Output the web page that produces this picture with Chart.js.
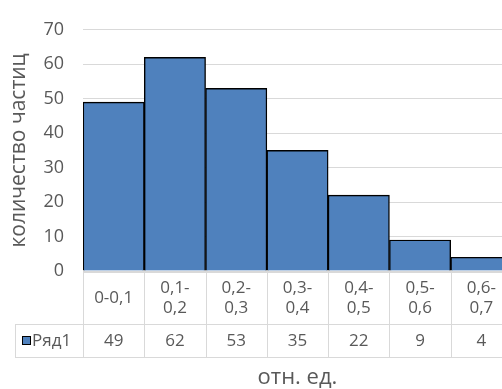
<!DOCTYPE html>
<html>
<head>
<meta charset="utf-8">
<script src="https://cdn.jsdelivr.net/npm/chart.js@4.4.1/dist/chart.umd.min.js"></script>
<style>
  html, body { margin: 0; padding: 0; background: #fff; overflow: hidden; }
  #wrap { width: 502px; height: 389px; overflow: hidden; }
  canvas { display: block; }
</style>
</head>
<body>
<div id="wrap"><canvas id="chart" width="512" height="389"></canvas></div>
<script>
// bins (table header rows) and counts
const categories = ['0-0,1', '0,1-0,2', '0,2-0,3', '0,3-0,4', '0,4-0,5', '0,5-0,6', '0,6-0,7'];
const categoryLines = [['0-0,1'], ['0,1-', '0,2'], ['0,2-', '0,3'], ['0,3-', '0,4'], ['0,4-', '0,5'], ['0,5-', '0,6'], ['0,6-', '0,7']];
const values = [49, 62, 53, 35, 22, 9, 4];
const seriesName = 'Ряд1';
const yTicks = [0, 10, 20, 30, 40, 50, 60, 70];

const FONT = "'Open Sans', sans-serif";
const TEXT = '#595959';
const GRID = '#d9d9d9';
const BAR = '#4f81bd';

// draws the Excel-style data table under the plot
const dataTable = {
  id: 'dataTable',
  afterDraw(chart) {
    const ctx = chart.ctx;
    const x = chart.scales.x;
    const area = chart.chartArea;
    const colW = x.getPixelForValue(1) - x.getPixelForValue(0);
    const y0 = area.bottom + 1, y1 = y0 + 52, y2 = y1 + 33;
    const legendLeft = 15;
    const right = x.getPixelForValue(categories.length - 1) + colW / 2;

    ctx.save();
    ctx.strokeStyle = GRID;
    ctx.lineWidth = 1;
    ctx.beginPath();
    ctx.moveTo(area.left, y0 + 0.5); ctx.lineTo(right, y0 + 0.5);
    ctx.moveTo(legendLeft, y1 + 0.5); ctx.lineTo(right, y1 + 0.5);
    ctx.moveTo(legendLeft, y2 + 0.5); ctx.lineTo(right, y2 + 0.5);
    ctx.moveTo(legendLeft + 0.5, y1); ctx.lineTo(legendLeft + 0.5, y2);
    for (let i = 0; i <= categories.length; i++) {
      const cx = Math.round(x.getPixelForValue(i) - colW / 2) + 0.5;
      ctx.moveTo(cx, y0); ctx.lineTo(cx, y2);
    }
    ctx.stroke();

    ctx.fillStyle = TEXT;
    ctx.font = '17px ' + FONT;
    ctx.textAlign = 'center';
    ctx.textBaseline = 'middle';
    const lh = 20;
    categoryLines.forEach((lines, i) => {
      const cx = x.getPixelForValue(i);
      const mid = (y0 + y1) / 2;
      lines.forEach((t, k) => {
        ctx.fillText(t, cx, mid + (k - (lines.length - 1) / 2) * lh);
      });
      ctx.fillText(String(values[i]), cx, (y1 + y2) / 2 + 1);
    });

    // legend key
    const ky = (y1 + y2) / 2;
    ctx.fillStyle = BAR;
    ctx.fillRect(22, ky - 4.5, 9, 9);
    ctx.strokeStyle = '#000';
    ctx.strokeRect(22.5, ky - 4, 8, 8);
    ctx.fillStyle = TEXT;
    ctx.textAlign = 'left';
    ctx.fillText(seriesName, 32, ky + 1);
    ctx.restore();
  }
};

new Chart(document.getElementById('chart'), {
  type: 'bar',
  data: {
    labels: categories,
    datasets: [{
      label: seriesName,
      data: values,
      backgroundColor: BAR,
      borderColor: '#000',
      borderWidth: 1.4,
      barPercentage: 1,
      categoryPercentage: 1,
    }],
  },
  options: {
    responsive: false,
    animation: false,
    layout: { padding: { top: 24, left: 0, right: 0, bottom: 0 } },
    plugins: {
      legend: { display: false },
      tooltip: { enabled: false },
    },
    scales: {
      x: {
        grid: { display: false },
        border: { display: false },
        ticks: { display: false },
        title: {
          display: true,
          text: 'отн. ед.',
          color: TEXT,
          font: { family: FONT, size: 22, lineHeight: 1 },
          padding: { top: 0, bottom: 0 },
        },
        afterFit(scale) { scale.height = 118; },
      },
      y: {
        min: 0,
        max: 70,
        afterBuildTicks(scale) { scale.ticks = yTicks.map(v => ({ value: v })); },
        grid: { color: GRID, drawTicks: false },
        border: { display: false },
        ticks: {
          color: TEXT,
          font: { family: FONT, size: 18 },
          padding: 19,
        },
        title: {
          display: true,
          text: 'количество частиц',
          color: TEXT,
          font: { family: FONT, size: 21, lineHeight: 1 },
          padding: { top: 9, bottom: 0 },
        },
        afterFit(scale) { scale.width = 83; },
      },
    },
  },
  plugins: [dataTable],
});
</script>
</body>
</html>
